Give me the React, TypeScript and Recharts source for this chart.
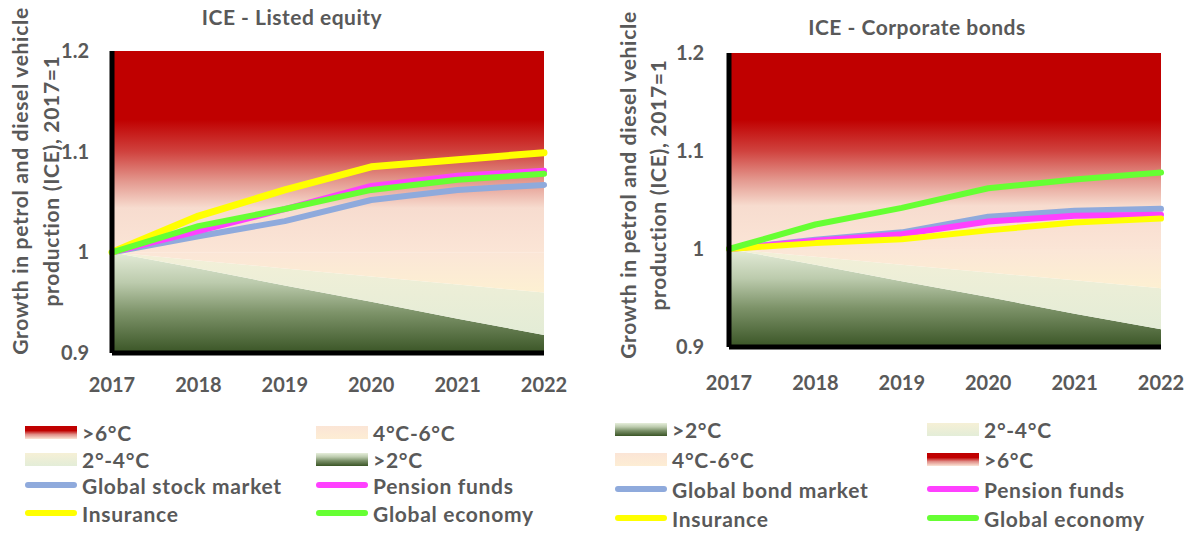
import React from "react";
import { ComposedChart, Area, Line, XAxis, YAxis } from "recharts";

const years = ["2017", "2018", "2019", "2020", "2021", "2022"];
const yTicks = [0.9, 1, 1.1, 1.2];

// scenario band edges (same in both panels)
const bandFloor = [0.9, 0.9, 0.9, 0.9, 0.9, 0.9];
const edge2 = [1, 0.984, 0.967, 0.951, 0.934, 0.918];
const edge4 = [1, 0.992, 0.984, 0.976, 0.968, 0.96];
const edge6 = [1, 1, 1, 1, 1, 1];
const bandTop = [1.2, 1.2, 1.2, 1.2, 1.2, 1.2];

// ICE - Listed equity
const equityStock = [1, 1.016, 1.031, 1.052, 1.062, 1.067];
const equityPension = [1, 1.021, 1.043, 1.066, 1.076, 1.081];
const equityInsurance = [1, 1.036, 1.062, 1.085, 1.092, 1.099];
const equityEconomy = [1, 1.026, 1.043, 1.062, 1.072, 1.078];

// ICE - Corporate bonds
const bondMarket = [1, 1.0095, 1.017, 1.033, 1.039, 1.041];
const bondPension = [1, 1.0085, 1.015, 1.028, 1.034, 1.035];
const bondInsurance = [1, 1.006, 1.01, 1.019, 1.027, 1.031];
const bondEconomy = [1, 1.025, 1.042, 1.062, 1.071, 1.078];

const yTitle = ["Growth in petrol and diesel vehicle", "production (ICE), 2017=1"];

const GREY = "#595959";
const FONT = "Lato, 'Open Sans', sans-serif";

const BLUE = "#8faadc";
const PINK = "#ff40ff";
const YELLOW = "#ffff00";
const GREEN = "#66ff33";

const swatch: Record<string, string> = {
  ">6°C": "linear-gradient(#c00000 0%, #c00000 35%, #e08c86 65%, #fbe5d6 100%)",
  "4°C-6°C": "linear-gradient(#fbe5d6, #fdedd4)",
  "2°-4°C": "linear-gradient(#f6f0d6, #e3edd8)",
  ">2°C": "linear-gradient(#e6eedb, #bccbae 30%, #7a9068 60%, #3a5526)",
};

type Series = { key: string; name: string; values: number[]; color: string; width: number };

function rows(series: Series[]) {
  return years.map((year, i) => {
    const r: any = {
      year,
      b2: [bandFloor[i], edge2[i]],
      b24: [edge2[i], edge4[i]],
      b46: [edge4[i], edge6[i]],
      b6: [edge6[i], bandTop[i]],
    };
    series.forEach((s) => (r[s.key] = s.values[i]));
    return r;
  });
}

const panels = [
  {
    id: "eq",
    title: "ICE - Listed equity",
    left: 0,
    titleX: 292,
    titleY: 17,
    margin: { top: 51, right: 53, bottom: 7, left: 0 },
    yWidth: 112,
    tmx: 19,
    tmy: 17,
    yTitleX: [20, 51],
    yTitleY: 181,
    series: [
      { key: "s1", name: "Global stock market", values: equityStock, color: BLUE, width: 6 },
      { key: "s2", name: "Pension funds", values: equityPension, color: PINK, width: 6 },
      { key: "s3", name: "Insurance", values: equityInsurance, color: YELLOW, width: 7 },
      { key: "s4", name: "Global economy", values: equityEconomy, color: GREEN, width: 6 },
    ],
    legend: [">6°C", "4°C-6°C", "2°-4°C", ">2°C", "s1", "s2", "s3", "s4"],
    legendCols: [25, 316],
    legendRows: [432, 459, 485, 513],
  },
  {
    id: "cb",
    title: "ICE - Corporate bonds",
    left: 597,
    titleX: 320,
    titleY: 27,
    margin: { top: 53, right: 33, bottom: 13, left: 0 },
    yWidth: 132,
    tmx: 23,
    tmy: 19,
    yTitleX: [31, 61],
    yTitleY: 185,
    series: [
      { key: "s1", name: "Global bond market", values: bondMarket, color: BLUE, width: 6 },
      { key: "s2", name: "Pension funds", values: bondPension, color: PINK, width: 6 },
      { key: "s3", name: "Insurance", values: bondInsurance, color: YELLOW, width: 6 },
      { key: "s4", name: "Global economy", values: bondEconomy, color: GREEN, width: 6 },
    ],
    legend: [">2°C", "2°-4°C", "4°C-6°C", ">6°C", "s1", "s2", "s3", "s4"],
    legendCols: [18, 330],
    legendRows: [429, 459, 489, 518],
  },
];

function Panel({ p }: { p: (typeof panels)[number] }) {
  const data = rows(p.series);
  const g = (n: string) => `url(#${p.id}-${n})`;
  const tick = { fill: GREY, fontSize: 20, fontWeight: 700, fontFamily: FONT };
  const axisLine = { stroke: "#000", strokeWidth: 5 };
  return (
    <div style={{ position: "absolute", left: p.left, top: 0, width: 597, height: 533 }}>
      <div
        style={{
          position: "absolute", left: p.titleX - 150, top: p.titleY - 13, width: 300,
          textAlign: "center", font: `700 21px ${FONT}`, lineHeight: "26px", color: GREY,
          letterSpacing: 0.5,
        }}
      >
        {p.title}
      </div>
      {yTitle.map((line, i) => (
        <div
          key={i}
          style={{
            position: "absolute", left: p.yTitleX[i] - 200, top: p.yTitleY - 13, width: 400, height: 26,
            lineHeight: "26px", textAlign: "center", transform: "rotate(-90deg)",
            font: `700 21px ${FONT}`, color: GREY, whiteSpace: "nowrap", letterSpacing: 0.7,
          }}
        >
          {line}
        </div>
      ))}
      <ComposedChart width={597} height={400} data={data} margin={p.margin}>
        <defs>
          <linearGradient id={`${p.id}-g6`} x1="0" y1="0" x2="0" y2="1">
            <stop offset="0" stopColor="#c00000" />
            <stop offset="0.34" stopColor="#c00000" />
            <stop offset="0.5" stopColor="#d0423e" />
            <stop offset="0.65" stopColor="#e49a90" />
            <stop offset="0.78" stopColor="#f7dccf" />
            <stop offset="1" stopColor="#fbe5d6" />
          </linearGradient>
          <linearGradient id={`${p.id}-g46`} x1="0" y1="0" x2="0" y2="1">
            <stop offset="0" stopColor="#fbe6d7" />
            <stop offset="1" stopColor="#fdf0d2" />
          </linearGradient>
          <linearGradient id={`${p.id}-g24`} x1="0" y1="0" x2="0" y2="1">
            <stop offset="0" stopColor="#f3f0d8" />
            <stop offset="1" stopColor="#e3ecd6" />
          </linearGradient>
          <linearGradient id={`${p.id}-g2`} x1="0" y1="0" x2="0" y2="1">
            <stop offset="0" stopColor="#e4ecd8" />
            <stop offset="0.3" stopColor="#bccbad" />
            <stop offset="0.6" stopColor="#7d9369" />
            <stop offset="1" stopColor="#3a5526" />
          </linearGradient>
        </defs>
        <Area dataKey="b2" type="linear" stroke="none" fill={g("g2")} fillOpacity={1} isAnimationActive={false} activeDot={false} />
        <Area dataKey="b24" type="linear" stroke="none" fill={g("g24")} fillOpacity={1} isAnimationActive={false} activeDot={false} />
        <Area dataKey="b46" type="linear" stroke="none" fill={g("g46")} fillOpacity={1} isAnimationActive={false} activeDot={false} />
        <Area dataKey="b6" type="linear" stroke="none" fill={g("g6")} fillOpacity={1} isAnimationActive={false} activeDot={false} />
        <XAxis
          dataKey="year" scale="point" height={40} interval={0} axisLine={axisLine}
          tickLine={false} tickMargin={p.tmx} tick={tick} padding={{ left: 0, right: 0 }}
        />
        <YAxis
          domain={[0.9, 1.2]} ticks={yTicks} allowDataOverflow width={p.yWidth}
          axisLine={axisLine} tickLine={false} tickMargin={p.tmy} tick={tick}
        />
        {p.series.map((s) => (
          <Line
            key={s.key} dataKey={s.key} name={s.name} type="linear" stroke={s.color}
            strokeWidth={s.width} dot={false} activeDot={false} strokeLinecap="round"
            strokeLinejoin="round" isAnimationActive={false}
          />
        ))}
      </ComposedChart>
      {p.legend.map((item, i) => {
        const s = p.series.find((x) => x.key === item);
        const x = p.legendCols[i % 2];
        const y = p.legendRows[Math.floor(i / 2)];
        return (
          <div
            key={item}
            style={{
              position: "absolute", left: x, top: y - 13, height: 26, display: "flex",
              alignItems: "center", font: `700 21px ${FONT}`, color: GREY, whiteSpace: "nowrap",
              letterSpacing: 0.7,
            }}
          >
            {s ? (
              <span style={{ width: 52, height: 6, borderRadius: 3, background: s.color, marginRight: 5 }} />
            ) : (
              <span style={{ width: 52, height: 13, background: swatch[item], marginRight: 5 }} />
            )}
            {s ? s.name : item}
          </div>
        );
      })}
    </div>
  );
}

export default function App() {
  return (
    <div style={{ position: "absolute", left: 0, top: 0, width: 1194, height: 533, background: "#fff" }}>
      {panels.map((p) => (
        <Panel key={p.id} p={p} />
      ))}
    </div>
  );
}
